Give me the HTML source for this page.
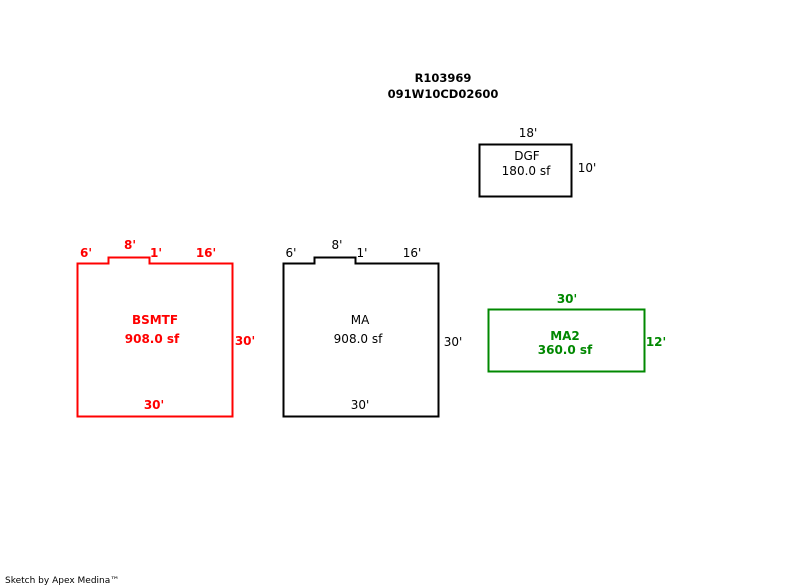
<!DOCTYPE html>
<html><head><style>body{margin:0;background:#fff}svg{display:block}text{font-family:"DejaVu Sans","Liberation Sans",sans-serif;font-size:12px}</style></head><body>
<svg width="800" height="587" xmlns="http://www.w3.org/2000/svg">
<g text-anchor="middle">
<text x="443" y="82" style="font-size:11.5px;font-weight:bold">R103969</text>
<text x="443" y="98" style="font-size:11.5px;font-weight:bold">091W10CD02600</text>
</g>
<path d="M77.5 263.5H108.5V257.5H149.5V263.5H232.5V416.5H77.5Z" fill="none" stroke="#f00" stroke-width="2"/>
<g fill="#f00" font-weight="bold" text-anchor="middle">
<text x="86" y="257">6'</text><text x="130" y="249">8'</text><text x="156" y="257">1'</text><text x="206" y="257">16'</text>
<text x="155" y="324">BSMTF</text><text x="152" y="343">908.0 sf</text>
<text x="245" y="345">30'</text><text x="154" y="409">30'</text>
</g>
<path d="M283.5 263.5H314.5V257.5H355.5V263.5H438.5V416.5H283.5Z" fill="none" stroke="#000" stroke-width="2"/>
<g text-anchor="middle">
<text x="291" y="257">6'</text><text x="337" y="249">8'</text><text x="362" y="257">1'</text><text x="412" y="257">16'</text>
<text x="360" y="324">MA</text><text x="358" y="343">908.0 sf</text>
<text x="453" y="346">30'</text><text x="360" y="409">30'</text>
</g>
<rect x="479.5" y="144.5" width="92" height="52" fill="none" stroke="#000" stroke-width="2"/>
<g text-anchor="middle">
<text x="528" y="137">18'</text><text x="527" y="160">DGF</text><text x="526" y="175">180.0 sf</text><text x="587" y="172">10'</text>
</g>
<rect x="488.5" y="309.5" width="156" height="62" fill="none" stroke="#080" stroke-width="2"/>
<g fill="#080" font-weight="bold" text-anchor="middle">
<text x="567" y="303">30'</text><text x="565" y="340">MA2</text><text x="565" y="354">360.0 sf</text><text x="656" y="346">12'</text>
</g>
<text x="5" y="583" style="font-size:9px">Sketch by Apex Medina™</text>
</svg>
</body></html>
